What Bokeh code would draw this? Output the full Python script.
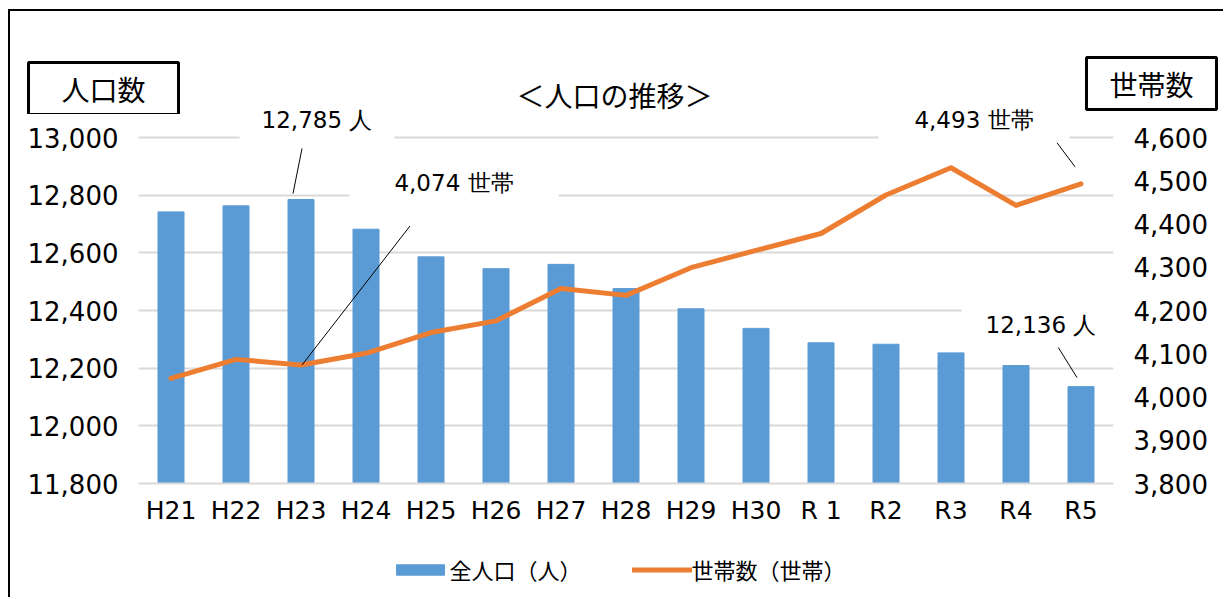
from bokeh.plotting import figure
from bokeh.models import (Range1d, LinearAxis, FixedTicker, NumeralTickFormatter,
                          Label, Legend, LegendItem)
from bokeh.embed import file_html
from bokeh.resources import INLINE

# ---------------- data ----------------
years = ["H21", "H22", "H23", "H24", "H25", "H26", "H27", "H28",
         "H29", "H30", "R 1", "R2", "R3", "R4", "R5"]
population = [12742, 12763, 12785, 12682, 12586, 12545, 12560, 12476,
              12406, 12338, 12288, 12283, 12253, 12209, 12136]
households = [4043, 4087, 4074, 4101, 4149, 4176, 4251, 4235,
              4299, 4339, 4378, 4467, 4530, 4443, 4493]
pop_ticks = [11800, 12000, 12200, 12400, 12600, 12800, 13000]
hh_ticks = [3800, 3900, 4000, 4100, 4200, 4300, 4400, 4500, 4600]

title_text = "＜人口の推移＞"
left_title = "人口数"
right_title = "世帯数"
pop_legend = "全人口（人）"
hh_legend = "世帯数（世帯）"

idx = list(range(len(years)))

# ---------------- styles ----------------
BAR = "#5B9BD5"
LINE = "#ED7D31"
GRID = "#d9d9d9"
NUM_FONT = "DejaVu Sans"
JP_FONT = "Noto Sans CJK JP"

FIG_W = 1215
HEAD_H = 105
OVERLAP = 10           # main chart overlaps the header strip (transparent)
MAIN_H = 437
LEG_H = 56
EXTRA_TOP_PX = 23 + OVERLAP   # space above the 13,000 / 4,600 gridline inside frame
FRAME_H = 346 + EXTRA_TOP_PX

pop_span = pop_ticks[-1] - pop_ticks[0]
hh_span = hh_ticks[-1] - hh_ticks[0]
grid_px = FRAME_H - EXTRA_TOP_PX
PX_X = 65.0
PX_L = grid_px / pop_span
PX_R = grid_px / hh_span

# ---------------- header strip ----------------
head = figure(width=FIG_W, height=HEAD_H, output_backend="svg", toolbar_location=None,
              x_range=Range1d(0, FIG_W), y_range=Range1d(0, HEAD_H),
              x_axis_location=None, y_axis_location=None, min_border=0,
              styles={"margin-left": "8px", "margin-top": "9px",
                      "border-left": "2px solid black", "border-top": "2px solid black"})
head.grid.visible = False
head.outline_line_color = None
head.border_fill_color = "white"

head.add_layout(Label(x=604, y=22, text=title_text,
                      text_align="center", text_baseline="middle",
                      text_font=JP_FONT, text_font_size="28px", text_color="black"))
head.add_layout(Label(x=93, y=28, text=left_title,
                      text_align="center", text_baseline="middle",
                      text_font=JP_FONT, text_font_size="28px", text_color="black",
                      background_fill_color="white", border_line_color="black",
                      border_line_width=3, padding=(33, 33, 6, 6)))
head.add_layout(Label(x=1141, y=33, text=right_title,
                      text_align="center", text_baseline="middle",
                      text_font=JP_FONT, text_font_size="28px", text_color="black",
                      background_fill_color="white", border_line_color="black",
                      border_line_width=3, padding=(23, 23, 6, 6)))

# ---------------- main chart ----------------
p = figure(width=FIG_W, height=MAIN_H, output_backend="svg", toolbar_location=None,
           x_range=Range1d(-0.5, len(years) - 0.5),
           y_range=Range1d(pop_ticks[0], pop_ticks[-1] + EXTRA_TOP_PX / PX_L),
           min_border_left=128, min_border_right=112,
           min_border_top=0, min_border_bottom=MAIN_H - FRAME_H,
           styles={"margin-left": "8px", "margin-top": f"-{OVERLAP}px",
                   "border-left": "2px solid black"})
p.extra_y_ranges = {"hh": Range1d(hh_ticks[0], hh_ticks[-1] + EXTRA_TOP_PX / PX_R)}
p.outline_line_color = None
p.background_fill_alpha = 0
p.border_fill_alpha = 0

p.xaxis.ticker = FixedTicker(ticks=idx)
p.xaxis.major_label_overrides = {i: y for i, y in zip(idx, years)}
p.xaxis.axis_line_color = GRID
p.xaxis.axis_line_width = 2
p.xaxis.major_tick_line_color = None
p.xaxis.minor_tick_line_color = None
p.xaxis.major_tick_out = 0
p.xaxis.major_tick_in = 0
p.xaxis.major_label_text_font = NUM_FONT
p.xaxis.major_label_text_font_size = "25px"
p.xaxis.major_label_text_color = "black"
p.xaxis.major_label_standoff = 12

p.yaxis.ticker = FixedTicker(ticks=pop_ticks)
p.yaxis.formatter = NumeralTickFormatter(format="0,0")
p.yaxis.axis_line_color = None
p.yaxis.major_tick_line_color = None
p.yaxis.minor_tick_line_color = None
p.yaxis.major_tick_out = 0
p.yaxis.major_tick_in = 0
p.yaxis.major_label_text_font = NUM_FONT
p.yaxis.major_label_text_font_size = "26px"
p.yaxis.major_label_text_color = "black"
p.yaxis.major_label_standoff = 20

raxis = LinearAxis(y_range_name="hh", ticker=FixedTicker(ticks=hh_ticks),
                   formatter=NumeralTickFormatter(format="0,0"))
raxis.axis_line_color = None
raxis.major_tick_line_color = None
raxis.minor_tick_line_color = None
raxis.major_tick_out = 0
raxis.major_tick_in = 0
raxis.major_label_text_font = NUM_FONT
raxis.major_label_text_font_size = "26px"
raxis.major_label_text_color = "black"
raxis.major_label_standoff = 20
p.add_layout(raxis, "right")

p.xgrid.grid_line_color = None
p.ygrid.grid_line_color = GRID
p.ygrid.grid_line_width = 2

bars = p.vbar(x=idx, top=population, bottom=pop_ticks[0], width=0.4,
              fill_color=BAR, line_color=BAR)
line = p.line(x=idx, y=households, y_range_name="hh", line_color=LINE,
              line_width=5, line_join="round", line_cap="round")

# leader lines (offsets in px from the data point)
def seg(i, val, a, b, py):
    return dict(x0=[i + a[0] / PX_X], y0=[val + a[1] / py],
                x1=[i + b[0] / PX_X], y1=[val + b[1] / py])

i23 = years.index("H23")
i5 = years.index("R5")
p.segment(**seg(i23, population[i23], (-8, 6), (1, 51), PX_L), line_color="black", line_width=1)
p.segment(**seg(i23, households[i23], (1, 0), (109, 139), PX_R), y_range_name="hh",
          line_color="black", line_width=1)
p.segment(**seg(i5, households[i5], (-6, 17), (-30, 49), PX_R), y_range_name="hh",
          line_color="black", line_width=1)
p.segment(**seg(i5, population[i5], (-4, 9), (-27, 46), PX_L), line_color="black", line_width=1)

def data_label(x, y, text, dx, dy, padh, yname="default"):
    p.add_layout(Label(x=x, y=y, text=text, x_offset=dx, y_offset=dy, y_range_name=yname,
                       text_align="center", text_baseline="middle",
                       text_font=NUM_FONT, text_font_size="23px", text_color="black",
                       background_fill_color="white", padding=(padh, padh, 10, 10)))

data_label(i23, population[i23], f"{population[i23]:,} 人", 16, 79, 22)
data_label(i23, households[i23], f"{households[i23]:,} 世帯", 153, 182, 45, "hh")
data_label(i5, households[i5], f"{households[i5]:,} 世帯", -107, 64, 36, "hh")
data_label(i5, population[i5], f"{population[i5]:,} 人", -40, 62, 24)

# ---------------- legend strip ----------------
# legend keys: the same series, placed entirely outside this strip's view
leg = figure(width=FIG_W, height=LEG_H, output_backend="svg", toolbar_location=None,
             x_range=Range1d(-10, -9), y_range=Range1d(0, 1),
             x_axis_location=None, y_axis_location=None, min_border=0,
             styles={"margin-left": "8px", "border-left": "2px solid black"})
leg.grid.visible = False
leg.outline_line_color = None
leg.border_fill_color = "white"
bar_key = leg.vbar(x=idx, top=population, bottom=pop_ticks[0], width=0.4,
                   fill_color=BAR, line_color=BAR)
line_key = leg.line(x=idx, y=households, line_color=LINE, line_width=5, line_cap="round")

legend = Legend(items=[LegendItem(label=pop_legend, renderers=[bar_key]),
                       LegendItem(label=hh_legend, renderers=[line_key])],
                orientation="horizontal", location="center",
                padding=0, margin=0, spacing=50, label_standoff=0,
                glyph_width=60, glyph_height=13,
                label_text_font=JP_FONT, label_text_font_size="22px",
                label_text_color="black",
                border_line_color=None, background_fill_alpha=0)
leg.add_layout(legend, "center")

open("out.html", "w").write(file_html([head, p, leg], INLINE))
